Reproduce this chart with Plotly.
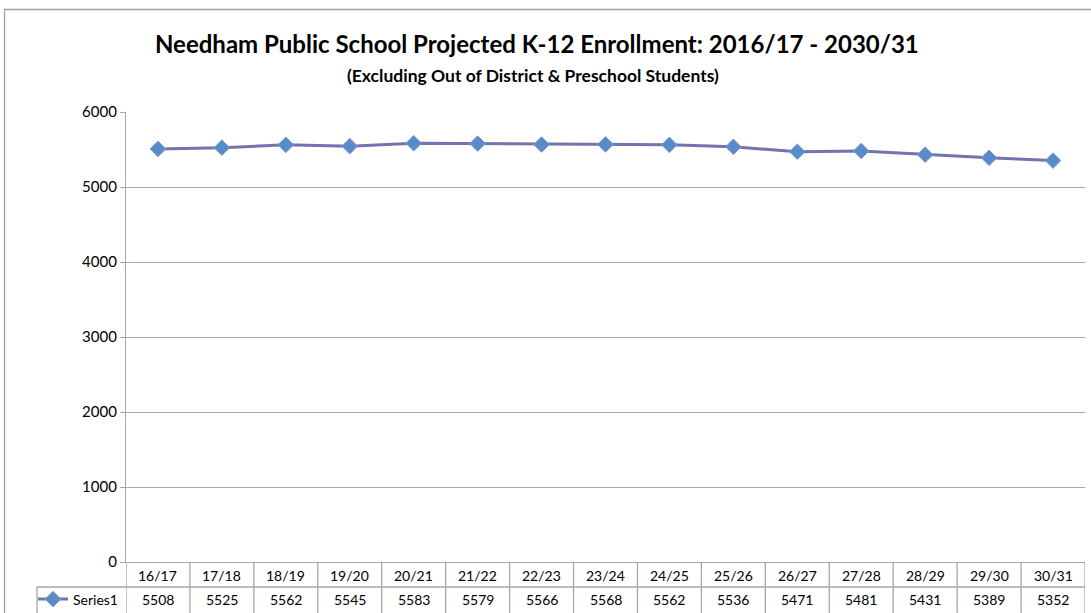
import plotly.graph_objects as go

categories = ["16/17", "17/18", "18/19", "19/20", "20/21", "21/22", "22/23", "23/24",
              "24/25", "25/26", "26/27", "27/28", "28/29", "29/30", "30/31"]
enrollment = [5508, 5525, 5562, 5545, 5583, 5579, 5566, 5568, 5562, 5536, 5471, 5481, 5431, 5389, 5352]
series_name = "Series1"
title_text = "Needham Public School Projected K-12 Enrollment: 2016/17 - 2030/31"
subtitle_text = "(Excluding Out of District & Preschool Students)"
y_ticks = [0, 1000, 2000, 3000, 4000, 5000, 6000]

W, H = 1091, 613
L, R, T, B = 126, 6, 112, 51
PW, PH = W - L - R, H - T - B
FONT = "Lato, Calibri, Carlito, sans-serif"
GRID = "#A6A6A6"


def px_x(px):
    return (px - L) / PW


def px_y(py):
    return (H - B - py) / PH


fig = go.Figure()
fig.add_trace(go.Scatter(
    x=categories, y=enrollment, mode="lines+markers", name=series_name,
    line=dict(color="#7373AE", width=3),
    marker=dict(symbol="diamond", size=12, color="#5B8AC8",
                line=dict(color="#7A9CCF", width=1)),
    showlegend=True,
))

shapes = []
# outer chart border (left and top visible)
shapes.append(dict(type="rect", xref="paper", yref="paper",
                   x0=px_x(4.5), x1=px_x(1100), y0=px_y(630), y1=px_y(9.5),
                   line=dict(color="#A0A0A0", width=1.3), layer="below"))
# data table grid lines
row_mid = px_y(587)
row_bot = px_y(630)
for i in range(len(categories) + 1):
    shapes.append(dict(type="line", xref="x", yref="paper",
                       x0=i - 0.5, x1=i - 0.5, y0=0, y1=row_bot,
                       line=dict(color=GRID, width=1.3)))
shapes.append(dict(type="line", xref="paper", yref="paper",
                   x0=px_x(37), x1=1, y0=row_mid, y1=row_mid,
                   line=dict(color=GRID, width=1.3)))
shapes.append(dict(type="line", xref="paper", yref="paper",
                   x0=px_x(37), x1=px_x(37), y0=row_mid, y1=row_bot,
                   line=dict(color=GRID, width=1.3)))

annotations = []
for c, v in zip(categories, enrollment):
    annotations.append(dict(x=c, xref="x", y=px_y(575), yref="paper", text=c,
                            showarrow=False, xanchor="center", yanchor="middle",
                            font=dict(family=FONT, size=14, color="#000")))
    annotations.append(dict(x=c, xref="x", y=px_y(599.5), yref="paper", text=str(v),
                            showarrow=False, xanchor="center", yanchor="middle",
                            font=dict(family=FONT, size=14, color="#000")))

annotations.append(dict(x=px_x(537), xref="paper", y=px_y(43), yref="paper",
                        text="<b>" + title_text + "</b>", showarrow=False,
                        xanchor="center", yanchor="middle",
                        font=dict(family=FONT, size=24, color="#000")))
annotations.append(dict(x=px_x(533), xref="paper", y=px_y(76), yref="paper",
                        text="<b>" + subtitle_text + "</b>", showarrow=False,
                        xanchor="center", yanchor="middle",
                        font=dict(family=FONT, size=17.5, color="#000")))

fig.update_layout(
    width=W, height=H,
    margin=dict(l=L, r=R, t=T, b=B, autoexpand=False),
    paper_bgcolor="white", plot_bgcolor="white",
    shapes=shapes, annotations=annotations,
    legend=dict(x=px_x(33), y=px_y(599.5), xanchor="left", yanchor="middle",
                font=dict(family=FONT, size=14, color="#000"),
                bgcolor="rgba(0,0,0,0)", borderwidth=0, itemwidth=30,
                tracegroupgap=0),
    xaxis=dict(type="category", range=[-0.5, len(categories) - 0.5],
               showticklabels=False, showgrid=False, ticks="",
               showline=True, linecolor=GRID, linewidth=1.3, zeroline=False,
               fixedrange=True),
    yaxis=dict(range=[0, 6000], tickvals=y_ticks, showgrid=True,
               gridcolor=GRID, gridwidth=1.3, ticks="outside", ticklen=5,
               tickcolor=GRID, tickwidth=1.3, showline=True, linecolor=GRID,
               linewidth=1.3, zeroline=False,
               tickfont=dict(family=FONT, size=15, color="#000"),
               fixedrange=True),
)

fig.write_html("out.html")
